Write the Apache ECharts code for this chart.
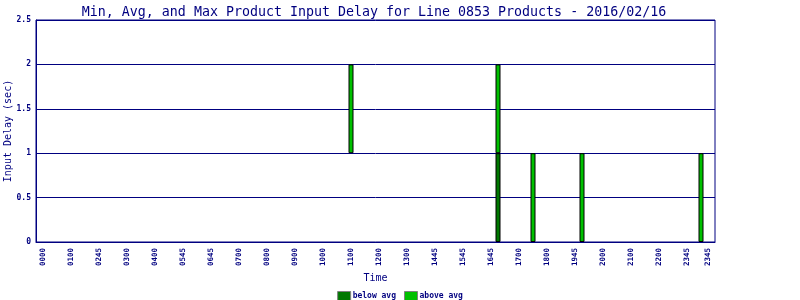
<!DOCTYPE html>
<html>
<head>
<meta charset="utf-8">
<script src="https://cdn.jsdelivr.net/npm/echarts@6/dist/echarts.min.js"></script>
<style>html,body{margin:0;padding:0;background:#fff}#c{width:800px;height:300px}</style>
</head>
<body>
<div id="c"></div>
<script>
// 15-minute time slots of the day (axis categories)
const slotTimes = [];
for (let h = 0; h < 24; h++) for (let m = 0; m < 60; m += 15)
  slotTimes.push(String(h).padStart(2, '0') + String(m).padStart(2, '0'));

// tick labels shown on the x axis (slot index -> text)
const tickSlots = [0, 4, 8, 12, 16, 20, 24, 28, 32, 36, 40, 44, 48, 52, 56, 60, 64, 68, 72, 76, 80, 84, 88, 92, 95];
const tickTexts = ['0000','0100','0245','0300','0400','0545','0645','0700','0800','0900','1000','1100','1200','1300','1445','1545','1645','1700','1800','1945','2000','2100','2200','2345','2345'];

// measured delays (sec)
const eventSlots = ['1100', '1615', '1730', '1915', '2330'];
const minDelay = [1, 0, 0, 0, 0];
const avgDelay = [1, 1, 0, 0, 0];
const maxDelay = [2, 2, 1, 1, 1];

const NAVY = '#000080';
const FONT = 'DejaVu Sans Mono';

// categories: one blank padding slot before and after the day
const cats = [''].concat(slotTimes, ['']);
const base = cats.map(() => null), below = cats.map(() => null), above = cats.map(() => null);
eventSlots.forEach((t, i) => {
  const idx = cats.indexOf(t);
  base[idx] = minDelay[i];
  below[idx] = avgDelay[i] - minDelay[i] > 0 ? avgDelay[i] - minDelay[i] : null;
  above[idx] = maxDelay[i] - avgDelay[i] > 0 ? maxDelay[i] - avgDelay[i] : null;
});
const labelMap = {};
tickSlots.forEach((s, i) => { labelMap[s + 1] = tickTexts[i]; });

const chart = echarts.init(document.getElementById('c'), null, {renderer: 'canvas'});
chart.setOption({
  animation: false,
  backgroundColor: '#fff',
  title: {
    text: 'Min, Avg, and Max Product Input Delay for Line 0853 Products - 2016/02/16',
    left: 369, textAlign: 'center', top: 1,
    textStyle: {fontFamily: FONT, fontSize: 13.3, fontWeight: 'normal', color: NAVY}
  },
  legend: {
    data: ['below avg', 'above avg'],
    top: 291, left: 'center', padding: 0,
    itemWidth: 13, itemHeight: 9, itemGap: 8,
    icon: 'rect',
    itemStyle: {borderColor: '#808080', borderWidth: 1},
    textStyle: {fontFamily: FONT, fontSize: 8, fontWeight: 'bold', color: NAVY, padding: [0, 0, 0, -3]}
  },
  grid: {left: 36, right: 85, top: 20, bottom: 58, outerBoundsMode: 'none', containLabel: false,
    show: true, borderColor: NAVY, borderWidth: 1, backgroundColor: 'transparent'},
  xAxis: {
    type: 'category', data: cats, boundaryGap: false,
    name: 'Time', nameLocation: 'middle', nameGap: 31, nameMoveOverlap: false,
    nameTextStyle: {fontFamily: FONT, fontSize: 10, color: NAVY},
    axisLine: {lineStyle: {color: NAVY, width: 1}},
    axisTick: {show: false},
    axisLabel: {
      rotate: 90, margin: 6, fontFamily: FONT, fontSize: 7.5, fontWeight: 'bold', color: NAVY,
      interval: (idx) => labelMap[idx] !== undefined,
      formatter: (v, idx) => labelMap[idx] || ''
    },
    splitLine: {show: false}
  },
  yAxis: {
    type: 'value', min: 0, max: 2.5, interval: 0.5,
    name: 'Input Delay (sec)', nameLocation: 'middle', nameGap: 23, nameRotate: 90, nameMoveOverlap: false,
    nameTextStyle: {fontFamily: FONT, fontSize: 10, color: NAVY},
    axisLine: {show: true, lineStyle: {color: NAVY, width: 1}},
    axisTick: {show: false},
    axisLabel: {margin: 5, fontFamily: FONT, fontSize: 8, fontWeight: 'bold', color: NAVY},
    splitLine: {show: true, lineStyle: {color: NAVY, width: 1}}
  },
  series: [
    {name: 'base', type: 'bar', stack: 'd', data: base, barWidth: 5, itemStyle: {color: 'transparent'}, silent: true},
    {name: 'below avg', type: 'bar', stack: 'd', data: below, barWidth: 5,
      itemStyle: {color: '#007800', borderColor: '#000', borderWidth: 1}},
    {name: 'above avg', type: 'bar', stack: 'd', data: above, barWidth: 5,
      itemStyle: {color: '#00c000', borderColor: '#000', borderWidth: 1}}
  ]
});
</script>
</body>
</html>
